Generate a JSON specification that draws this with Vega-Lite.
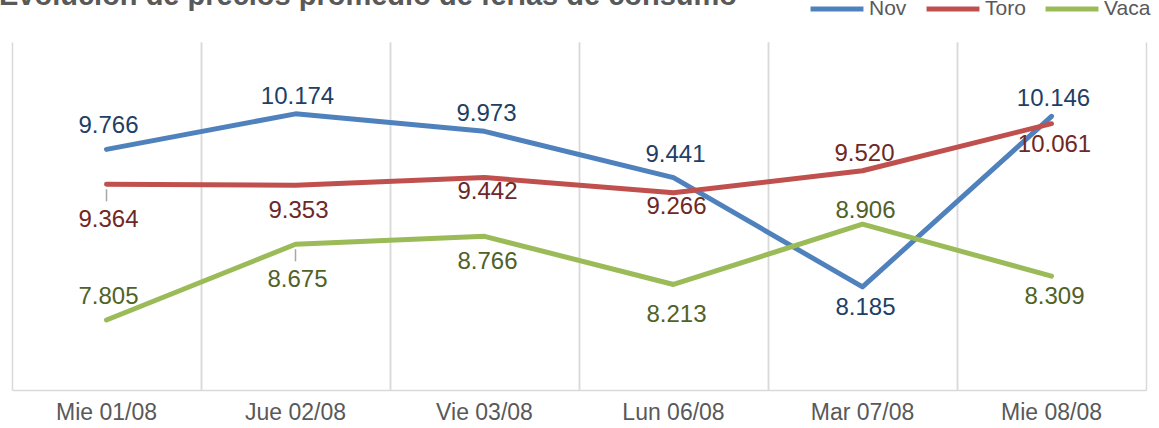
{
  "$schema": "https://vega.github.io/schema/vega-lite/v6.json",
  "width": 1134,
  "height": 348,
  "autosize": {"type": "none"},
  "padding": {"left": 12, "top": 42, "right": 13, "bottom": 38},
  "background": "white",
  "config": {
    "view": {"stroke": null},
    "font": "Liberation Sans"
  },
  "title": {
    "text": "Evolución de precios promedio de ferias de consumo",
    "anchor": "start",
    "frame": "group",
    "orient": "top",
    "fontSize": 29,
    "fontWeight": "bold",
    "color": "#595959",
    "baseline": "alphabetic",
    "offset": 0,
    "dx": -13,
    "dy": 54
  },
  "data": {
    "values": [
      {"fecha": "Mie 01/08", "serie": "Nov", "valor": 9.766},
      {"fecha": "Jue 02/08", "serie": "Nov", "valor": 10.174},
      {"fecha": "Vie 03/08", "serie": "Nov", "valor": 9.973},
      {"fecha": "Lun 06/08", "serie": "Nov", "valor": 9.441},
      {"fecha": "Mar 07/08", "serie": "Nov", "valor": 8.185},
      {"fecha": "Mie 08/08", "serie": "Nov", "valor": 10.146},
      {"fecha": "Mie 01/08", "serie": "Toro", "valor": 9.364},
      {"fecha": "Jue 02/08", "serie": "Toro", "valor": 9.353},
      {"fecha": "Vie 03/08", "serie": "Toro", "valor": 9.442},
      {"fecha": "Lun 06/08", "serie": "Toro", "valor": 9.266},
      {"fecha": "Mar 07/08", "serie": "Toro", "valor": 9.520},
      {"fecha": "Mie 08/08", "serie": "Toro", "valor": 10.061},
      {"fecha": "Mie 01/08", "serie": "Vaca", "valor": 7.805},
      {"fecha": "Jue 02/08", "serie": "Vaca", "valor": 8.675},
      {"fecha": "Vie 03/08", "serie": "Vaca", "valor": 8.766},
      {"fecha": "Lun 06/08", "serie": "Vaca", "valor": 8.213},
      {"fecha": "Mar 07/08", "serie": "Vaca", "valor": 8.906},
      {"fecha": "Mie 08/08", "serie": "Vaca", "valor": 8.309}
    ]
  },
  "encoding": {
    "x": {
      "field": "fecha",
      "type": "nominal",
      "sort": null,
      "scale": {"type": "band", "paddingInner": 0, "paddingOuter": 0},
      "axis": null
    },
    "y": {
      "field": "valor",
      "type": "quantitative",
      "scale": {"domain": [7, 11], "nice": false, "zero": false},
      "axis": null
    }
  },
  "layer": [
    {
      "transform": [{"filter": "(datum.serie == 'Toro' && datum.fecha == 'Mie 01/08') || (datum.serie == 'Vaca' && datum.fecha == 'Jue 02/08')"}],
      "mark": {"type": "tick", "orient": "vertical", "size": 12, "thickness": 1.5, "yOffset": 11, "color": "#A6A6A6", "opacity": 1}
    },
    {
      "mark": {"type": "line", "strokeWidth": 5, "strokeCap": "round", "strokeJoin": "round"},
      "encoding": {
        "x": {
          "field": "fecha", "type": "nominal", "sort": null,
          "axis": {
            "title": null, "orient": "bottom", "bandPosition": 0, "grid": true,
            "gridColor": "#D9D9D9", "gridWidth": 1.5, "ticks": false,
            "domainColor": "#D9D9D9", "domainWidth": 1.5,
            "labelAngle": 0, "labelFontSize": 23, "labelColor": "#595959",
            "labelPadding": 11, "labelBaseline": "top", "labelFont": "Liberation Sans"
          }
        },
        "color": {
          "field": "serie", "type": "nominal",
          "scale": {"domain": ["Nov", "Toro", "Vaca"], "range": ["#4F81BD", "#C0504D", "#9BBB59"]},
          "legend": {
            "orient": "none", "direction": "horizontal", "title": null,
            "legendX": 796, "legendY": -62,
            "symbolType": "stroke", "symbolSize": 2800, "symbolStrokeWidth": 5,
            "labelFontSize": 21, "labelColor": "#595959", "labelOffset": 3,
            "columnPadding": 9, "padding": 0, "labelFont": "Liberation Sans"
          }
        }
      }
    },
    {
      "mark": {"type": "line", "opacity": 0},
      "encoding": {
        "x": {
          "field": "fecha", "type": "nominal", "sort": null,
          "axis": {
            "title": null, "orient": "top", "bandPosition": 1, "grid": true,
            "gridColor": "#D9D9D9", "gridWidth": 1.5, "ticks": false,
            "domain": false, "labels": false
          }
        },
        "detail": {"field": "serie"}
      }
    },
    {
      "transform": [{"filter": "(datum.serie == 'Nov' && (datum.fecha == 'Mie 01/08' || datum.fecha == 'Lun 06/08')) || (datum.serie == 'Vaca' && datum.fecha == 'Mie 01/08')"}],
      "mark": {"type": "text", "fontSize": 24, "dy": -23, "dx": 2, "baseline": "middle"},
      "encoding": {
        "text": {"field": "valor", "type": "quantitative", "format": ".3f"},
        "fill": {"field": "serie", "type": "nominal", "scale": {"domain": ["Nov", "Toro", "Vaca"], "range": ["#203F66", "#6E2826", "#4F6228"]}, "legend": null}
      }
    },
    {
      "transform": [{"filter": "(datum.serie == 'Nov' && (datum.fecha == 'Jue 02/08' || datum.fecha == 'Vie 03/08' || datum.fecha == 'Mie 08/08')) || (datum.serie == 'Toro' && datum.fecha == 'Mar 07/08')"}],
      "mark": {"type": "text", "fontSize": 24, "dy": -17, "dx": 2, "baseline": "middle"},
      "encoding": {
        "text": {"field": "valor", "type": "quantitative", "format": ".3f"},
        "fill": {"field": "serie", "type": "nominal", "scale": {"domain": ["Nov", "Toro", "Vaca"], "range": ["#203F66", "#6E2826", "#4F6228"]}, "legend": null}
      }
    },
    {
      "transform": [{"filter": "datum.serie == 'Vaca' && datum.fecha == 'Mar 07/08'"}],
      "mark": {"type": "text", "fontSize": 24, "dy": -13, "dx": 3, "baseline": "middle"},
      "encoding": {
        "text": {"field": "valor", "type": "quantitative", "format": ".3f"},
        "fill": {"field": "serie", "type": "nominal", "scale": {"domain": ["Nov", "Toro", "Vaca"], "range": ["#203F66", "#6E2826", "#4F6228"]}, "legend": null}
      }
    },
    {
      "transform": [{"filter": "datum.serie == 'Toro' && (datum.fecha == 'Vie 03/08' || datum.fecha == 'Lun 06/08')"}],
      "mark": {"type": "text", "fontSize": 24, "dy": 14, "dx": 3, "baseline": "middle"},
      "encoding": {
        "text": {"field": "valor", "type": "quantitative", "format": ".3f"},
        "fill": {"field": "serie", "type": "nominal", "scale": {"domain": ["Nov", "Toro", "Vaca"], "range": ["#203F66", "#6E2826", "#4F6228"]}, "legend": null}
      }
    },
    {
      "transform": [{"filter": "(datum.serie == 'Nov' && datum.fecha == 'Mar 07/08') || (datum.serie == 'Toro' && datum.fecha == 'Mie 08/08') || (datum.serie == 'Vaca' && datum.fecha == 'Mie 08/08')"}],
      "mark": {"type": "text", "fontSize": 24, "dy": 21, "dx": 3, "baseline": "middle"},
      "encoding": {
        "text": {"field": "valor", "type": "quantitative", "format": ".3f"},
        "fill": {"field": "serie", "type": "nominal", "scale": {"domain": ["Nov", "Toro", "Vaca"], "range": ["#203F66", "#6E2826", "#4F6228"]}, "legend": null}
      }
    },
    {
      "transform": [{"filter": "(datum.serie == 'Vaca' && datum.fecha == 'Vie 03/08') || (datum.serie == 'Toro' && datum.fecha == 'Jue 02/08')"}],
      "mark": {"type": "text", "fontSize": 24, "dy": 26, "dx": 3, "baseline": "middle"},
      "encoding": {
        "text": {"field": "valor", "type": "quantitative", "format": ".3f"},
        "fill": {"field": "serie", "type": "nominal", "scale": {"domain": ["Nov", "Toro", "Vaca"], "range": ["#203F66", "#6E2826", "#4F6228"]}, "legend": null}
      }
    },
    {
      "transform": [{"filter": "datum.serie == 'Vaca' && datum.fecha == 'Lun 06/08'"}],
      "mark": {"type": "text", "fontSize": 24, "dy": 31, "dx": 3, "baseline": "middle"},
      "encoding": {
        "text": {"field": "valor", "type": "quantitative", "format": ".3f"},
        "fill": {"field": "serie", "type": "nominal", "scale": {"domain": ["Nov", "Toro", "Vaca"], "range": ["#203F66", "#6E2826", "#4F6228"]}, "legend": null}
      }
    },
    {
      "transform": [{"filter": "(datum.serie == 'Toro' && datum.fecha == 'Mie 01/08') || (datum.serie == 'Vaca' && datum.fecha == 'Jue 02/08')"}],
      "mark": {"type": "text", "fontSize": 24, "dy": 36, "dx": 2, "baseline": "middle"},
      "encoding": {
        "text": {"field": "valor", "type": "quantitative", "format": ".3f"},
        "fill": {"field": "serie", "type": "nominal", "scale": {"domain": ["Nov", "Toro", "Vaca"], "range": ["#203F66", "#6E2826", "#4F6228"]}, "legend": null}
      }
    }
  ]
}
